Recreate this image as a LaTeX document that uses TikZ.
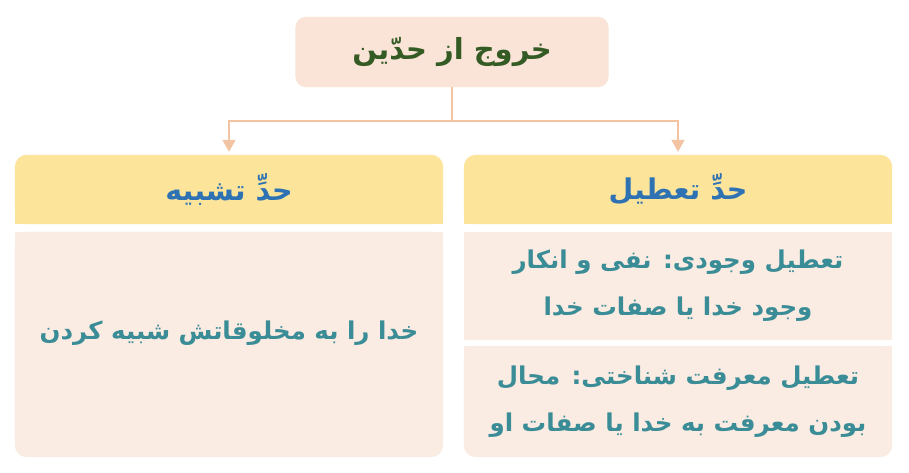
\documentclass[tikz,border=0pt]{standalone}
\usepackage{fontspec}
\usetikzlibrary{arrows.meta,backgrounds}
\TeXXeTstate=1
\newfontfamily\fa[Script=Arabic]{DejaVu Sans}
\definecolor{topfill}{HTML}{FAE3D7}
\definecolor{hdrfill}{HTML}{FCE49A}
\definecolor{bodyfill}{HTML}{FBECE3}
\definecolor{conncol}{HTML}{F2C4A4}
\definecolor{greentxt}{HTML}{355B24}
\definecolor{bluetxt}{HTML}{2E72B4}
\definecolor{tealtxt}{HTML}{3A8C96}
\begin{document}
\begin{tikzpicture}[x=1pt,y=-1pt,
  topbox/.style={minimum width=313pt,minimum height=70pt,inner sep=0pt,text=greentxt,
    font={\fa\bfseries\fontsize{29}{34}\selectfont}},
  hdrbox/.style={minimum width=428pt,minimum height=69pt,inner sep=0pt,text=bluetxt,
    font={\fa\bfseries\fontsize{28.5}{34}\selectfont}},
  bodybox/.style={minimum width=428pt,inner sep=0pt},
  bodytxt/.style={inner sep=0pt,align=center,text=tealtxt,
    font={\fa\bfseries\fontsize{24.5}{47}\selectfont}},
  conn/.style={draw=conncol,line width=1.8pt},
  arr/.style={-{Triangle[length=12pt,width=13pt]},shorten >=3pt}]
\useasboundingbox (0,0) rectangle (909,472);

\node[topbox] (top) at (452,52) {\beginR خروج از حدّین\endR};
\node[hdrbox] (hL) at (229,189.5) {\beginR حدِّ تشبیه\endR};
\node[hdrbox] (hR) at (678,189.5) {\beginR حدِّ تعطیل\endR};
\node[bodybox,minimum height=225pt] (bL) at (229,344.5) {};
\node[bodytxt] (tL) at (229,333) {\beginR خدا را به مخلوقاتش شبیه کردن\endR};
\node[bodybox,minimum height=108pt,bodytxt] (bR1) at (678,286)
  {\beginR تعطیل وجودی: نفی و انکار\endR\\\beginR وجود خدا یا صفات خدا\endR};
\node[bodybox,minimum height=111pt,bodytxt] (bR2) at (678,401.5)
  {\beginR تعطیل معرفت شناختی: محال\endR\\\beginR بودن معرفت به خدا یا صفات او\endR};

\begin{scope}[on background layer]
  \fill[white] (0,0) rectangle (909,472);
  \fill[topfill,rounded corners=11pt] (top.south west) rectangle (top.north east);
  \fill[hdrfill,rounded corners=12pt] (hL.south west) rectangle (hL.north east);
  \fill[hdrfill] (hL.south west) rectangle (hL.east);
  \fill[hdrfill,rounded corners=12pt] (hR.south west) rectangle (hR.north east);
  \fill[hdrfill] (hR.south west) rectangle (hR.east);
  \fill[bodyfill,rounded corners=12pt] (bL.south west) rectangle (bL.north east);
  \fill[bodyfill] (bL.west) rectangle (bL.north east);
  \fill[bodyfill] (bR1.south west) rectangle (bR1.north east);
  \fill[bodyfill,rounded corners=12pt] (bR2.south west) rectangle (bR2.north east);
  \fill[bodyfill] (bR2.west) rectangle (bR2.north east);
\end{scope}

\coordinate (j) at ([yshift=-34pt]top.south);
\draw[conn] (top.south) -- (j);
\draw[conn,arr] (j) -| (hL.north);
\draw[conn,arr] (j) -| (hR.north);
\end{tikzpicture}
\end{document}
